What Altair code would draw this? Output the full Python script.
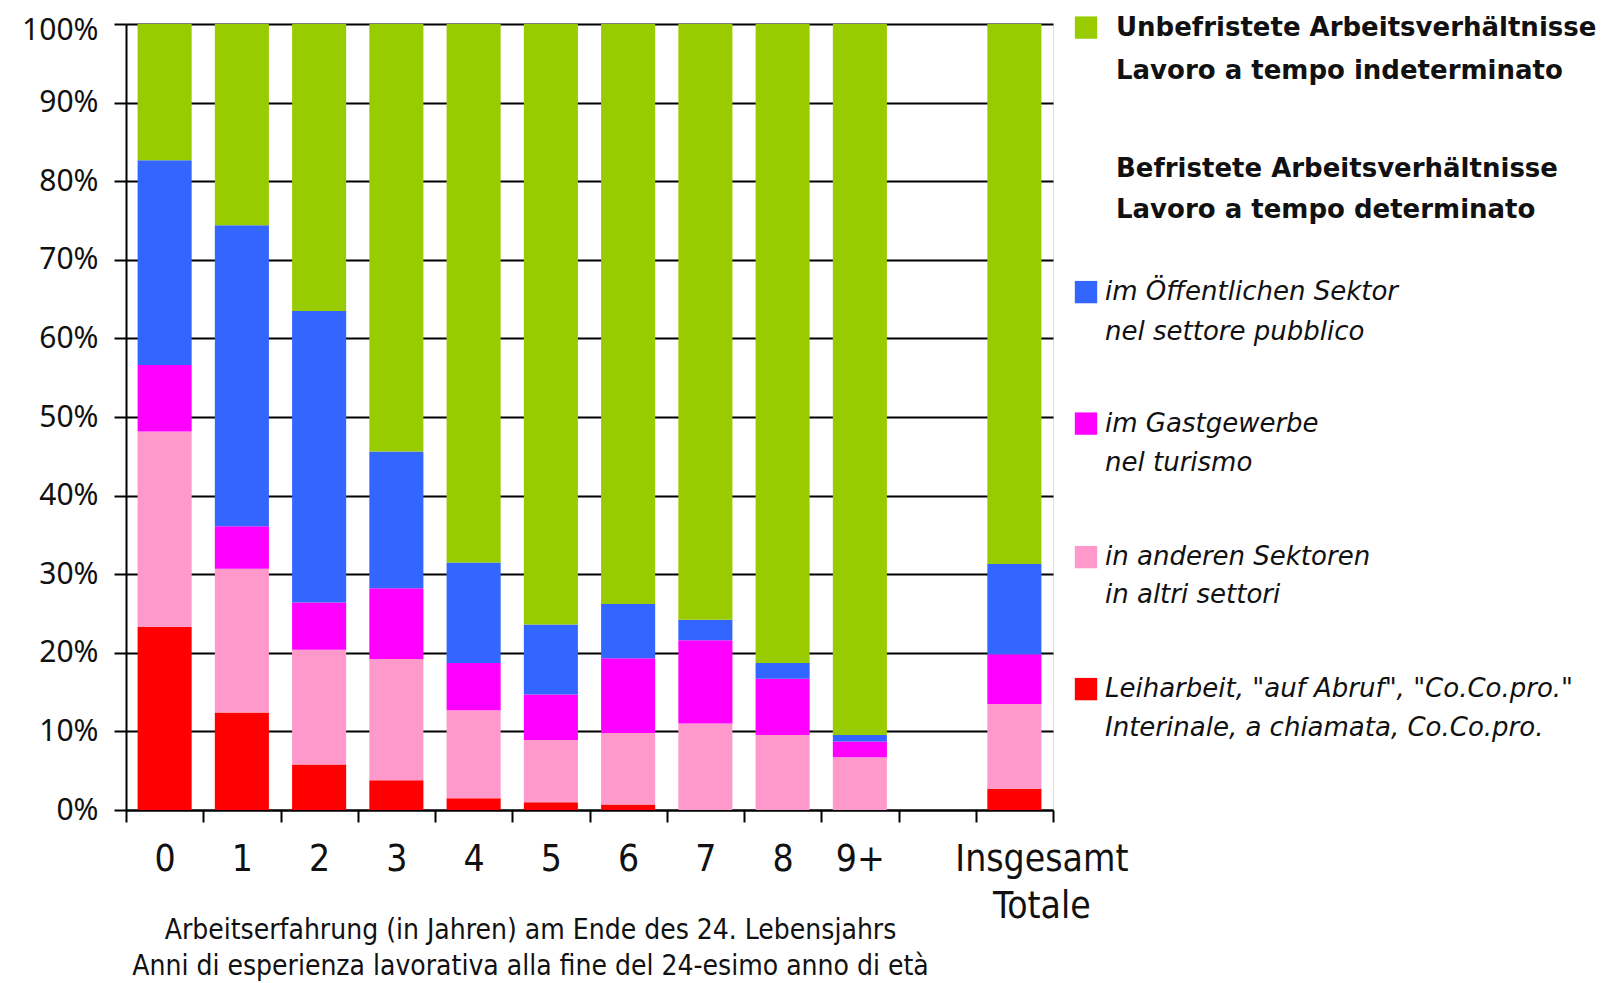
import altair as alt
import pandas as pd

# ---------------- data ----------------
categories = ["0", "1", "2", "3", "4", "5", "6", "7", "8", "9+", "", "Insgesamt Totale"]
bar_categories = ["0", "1", "2", "3", "4", "5", "6", "7", "8", "9+", "Insgesamt Totale"]
series = ["Leiharbeit", "andere Sektoren", "Gastgewerbe", "Öffentlicher Sektor", "Unbefristet"]
red = [23.3, 12.4, 5.8, 3.8, 1.5, 1.0, 0.7, 0.0, 0.0, 0.0, 2.7]
pink = [24.85, 18.3, 14.6, 15.4, 11.2, 7.9, 9.1, 11.0, 9.55, 6.7, 10.8]
magenta = [8.45, 5.4, 6.0, 9.0, 6.0, 5.8, 9.5, 10.6, 7.15, 2.0, 6.3]
blue = [26.05, 38.3, 37.1, 17.4, 12.8, 8.9, 6.9, 2.6, 2.0, 0.85, 11.5]
green = [17.35, 25.6, 36.5, 54.4, 68.5, 76.4, 73.8, 75.8, 81.3, 90.45, 68.7]
colors = ["#FF0000", "#FF99CC", "#FF00FF", "#3366FF", "#99CC00"]
y_ticks = [0, 10, 20, 30, 40, 50, 60, 70, 80, 90, 100]

x_title = ["Arbeitserfahrung (in Jahren) am Ende des 24. Lebensjahrs",
           "Anni di esperienza lavorativa alla fine del 24-esimo anno di età"]

legend_header = [["Unbefristete Arbeitsverhältnisse", "Lavoro a tempo indeterminato"],
                 ["Befristete Arbeitsverhältnisse", "Lavoro a tempo determinato"]]
legend_items = [["im Öffentlichen Sektor", "nel settore pubblico"],
                ["im Gastgewerbe", "nel turismo"],
                ["in anderen Sektoren", "in altri settori"],
                ['Leiharbeit, "auf Abruf", "Co.Co.pro."', "Interinale, a chiamata, Co.Co.pro."]]
legend_item_colors = ["#3366FF", "#FF00FF", "#FF99CC", "#FF0000"]

rows = []
for s_i, (s, vals) in enumerate(zip(series, [red, pink, magenta, blue, green])):
    for c, v in zip(bar_categories, vals):
        rows.append({"cat": c, "series": s, "value": v, "ord": s_i})
df = pd.DataFrame(rows)

W, H = 927, 786
TOP = 16
narrow = "Liberation Sans Narrow, DejaVu Sans Condensed, Roboto, sans-serif"

bars = alt.Chart(df).mark_bar(width={"band": 0.7}).encode(
    x=alt.X("cat:N",
            scale=alt.Scale(domain=categories, paddingInner=0, paddingOuter=0),
            axis=alt.Axis(tickBand="extent", labelAngle=0,
                          labelExpr="split(datum.label, ' ')",
                          labelOffset=alt.condition("datum.value == 'Insgesamt Totale'",
                                                    alt.value(27), alt.value(0)),
                          labelFont=narrow, labelFontSize=37, labelColor="#111111",
                          labelPadding=19, labelLineHeight=47,
                          tickSize=12, tickWidth=2, tickColor="#000000",
                          domainColor="#000000", domainWidth=2,
                          title=x_title, titleFont=narrow, titleFontSize=28,
                          titleFontWeight="normal", titleColor="#111111",
                          titleLineHeight=36, titleX=404, titleY=106,
                          titleBaseline="top", titleAlign="center")),
    y=alt.Y("value:Q", stack="zero",
            scale=alt.Scale(domain=[0, 100], nice=False),
            axis=alt.Axis(values=y_ticks, labelExpr="datum.value + '%'",
                          labelOffset=alt.condition("datum.value == 100",
                                                    alt.value(6), alt.value(0)),
                          grid=True, gridColor="#000000", gridWidth=2, gridOpacity=1,
                          domainColor="#000000", domainWidth=2,
                          tickColor="#000000", tickSize=12, tickWidth=2,
                          labelFont="Noto Sans", labelFontSize=30, labelColor="#111111",
                          labelPadding=16, title=None)),
    color=alt.Color("series:N", scale=alt.Scale(domain=series, range=colors), legend=None),
    order=alt.Order("ord:Q", sort="ascending"),
)

one = pd.DataFrame({"k": [0]})
layers = [bars]
dy = 22.6 - (8 + TOP)  # keep legend at the reference's page position

# legend: header with green square
hdr_y = [[5, 48], [146, 187]]
for i, (lines, ys) in enumerate(zip(legend_header, hdr_y)):
    for line, yy in zip(lines, ys):
        layers.append(alt.Chart(one).mark_text(
            align="left", baseline="middle", font="DejaVu Sans", fontWeight="bold",
            fontSize=26, color="#111111", text=line
        ).encode(x=alt.value(990), y=alt.value(yy + dy)))
layers.append(alt.Chart(one).mark_square(size=500, opacity=1, color="#99CC00").encode(
    x=alt.value(960), y=alt.value(5 + dy)))

item_y = [[269.5, 309.5], [401, 440], [534.5, 572.5], [666.5, 705.5]]
for lines, ys, col in zip(legend_items, item_y, legend_item_colors):
    layers.append(alt.Chart(one).mark_square(size=500, opacity=1, color=col).encode(
        x=alt.value(960), y=alt.value(ys[0] + dy)))
    for line, yy in zip(lines, ys):
        layers.append(alt.Chart(one).mark_text(
            align="left", baseline="middle", font="DejaVu Sans", fontStyle="italic",
            fontSize=26, color="#111111", text=line
        ).encode(x=alt.value(979), y=alt.value(yy + dy)))

chart = alt.layer(*layers).properties(
    width=W, height=H,
    autosize=alt.AutoSizeParams(type="none"),
    padding={"left": 118, "top": TOP, "right": 547, "bottom": 173},
).configure_view(strokeWidth=0).configure(background="#ffffff")

chart.save("out.html", embed_options={"renderer": "svg", "actions": False})
